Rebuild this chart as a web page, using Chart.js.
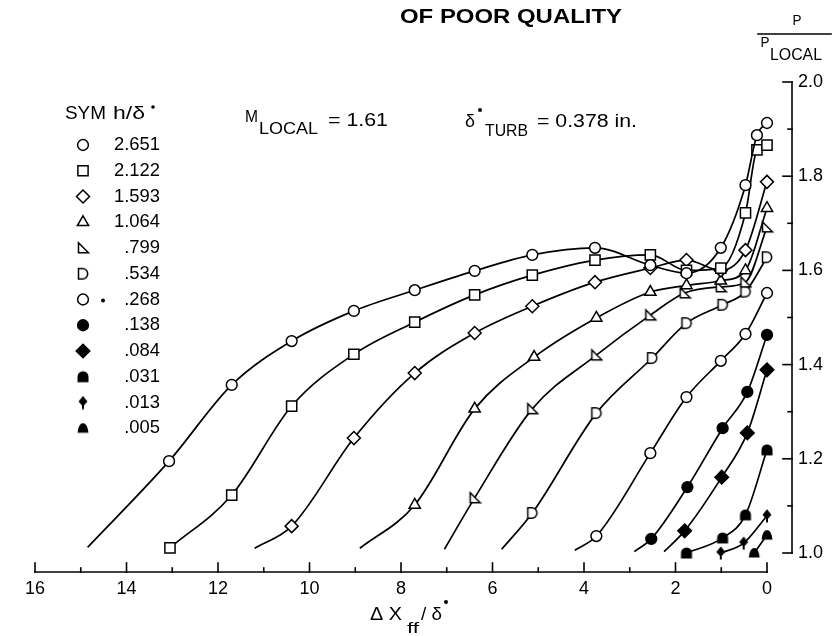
<!DOCTYPE html>
<html><head><meta charset="utf-8">
<script src="https://cdn.jsdelivr.net/npm/chart.js@4.4.0/dist/chart.umd.min.js"></script>
<style>html,body{margin:0;padding:0;background:#fff}#wrap{width:835px;height:636px;position:relative}</style>
</head><body><div id="wrap"><canvas id="c" width="835" height="636"></canvas></div>
<script>
// ---- tick labels ----
const xTickValues = [16, 14, 12, 10, 8, 6, 4, 2, 0];
const yTickValues = [1.0, 1.2, 1.4, 1.6, 1.8, 2.0];
// ---- legend (h/delta*) ----
const symLabels = ['2.651', '2.122', '1.593', '1.064', '.799', '.534', '.268', '.138', '.084', '.031', '.013', '.005'];

// ---- series: x = ΔX_ff/δ*, y = P/P_LOCAL ; *Start = unmarked start of the faired curve ----
const s1Start = [14.85, 1.012];
const s1X = [13.07, 11.70, 10.39, 9.03, 7.70, 6.39, 5.13, 3.76, 2.55, 1.76, 1.01, 0.47, 0.22, 0.0];
const s1Y = [1.195, 1.357, 1.450, 1.514, 1.558, 1.599, 1.633, 1.648, 1.611, 1.594, 1.648, 1.781, 1.887, 1.913];

const s2Start = null;
const s2X = [13.05, 11.70, 10.39, 9.03, 7.70, 6.39, 5.13, 3.76, 2.55, 1.76, 1.01, 0.47, 0.22, 0.0];
const s2Y = [1.011, 1.123, 1.312, 1.422, 1.490, 1.548, 1.590, 1.622, 1.633, 1.600, 1.605, 1.722, 1.856, 1.866];

const s3Start = [11.2, 1.010];
const s3X = [10.39, 9.03, 7.70, 6.39, 5.13, 3.76, 2.55, 1.76, 1.01, 0.47, 0.0];
const s3Y = [1.057, 1.244, 1.382, 1.467, 1.524, 1.575, 1.605, 1.622, 1.600, 1.643, 1.788];

const s4Start = [8.9, 1.010];
const s4X = [7.70, 6.39, 5.09, 3.73, 2.55, 1.76, 1.01, 0.47, 0.0];
const s4Y = [1.102, 1.306, 1.416, 1.499, 1.554, 1.568, 1.578, 1.600, 1.732];

const s5Start = [7.05, 1.008];
const s5X = [6.39, 5.13, 3.73, 2.55, 1.80, 1.01, 0.47, 0.0];
const s5Y = [1.117, 1.306, 1.420, 1.505, 1.552, 1.565, 1.575, 1.692];

const s6Start = [5.8, 1.008];
const s6X = [5.13, 3.73, 2.51, 1.76, 0.97, 0.47, 0.0];
const s6Y = [1.085, 1.297, 1.414, 1.488, 1.527, 1.555, 1.628];

const s7Start = [4.2, 1.006];
const s7X = [3.73, 2.55, 1.76, 1.01, 0.47, 0.0];
const s7Y = [1.036, 1.212, 1.331, 1.408, 1.465, 1.552];

const s8Start = [2.9, 1.003];
const s8X = [2.53, 1.74, 0.97, 0.43, 0.0];
const s8Y = [1.030, 1.140, 1.265, 1.342, 1.463];

const s9Start = [2.25, 1.003];
const s9X = [1.80, 0.99, 0.43, 0.0];
const s9Y = [1.047, 1.161, 1.255, 1.389];

const s10Start = null;
const s10X = [1.76, 0.97, 0.47, 0.0];
const s10Y = [1.000, 1.032, 1.081, 1.219];

const s11Start = null;
const s11X = [1.01, 0.51, 0.0];
const s11Y = [1.000, 1.021, 1.079];

const s12Start = null;
const s12X = [0.28, 0.0];
const s12Y = [1.000, 1.038];

// ---- custom marker glyphs ----
function glyph(size, draw) {
  const c = document.createElement('canvas');
  c.width = size; c.height = size;
  const g = c.getContext('2d');
  g.lineWidth = 1.5; g.strokeStyle = '#000'; g.fillStyle = '#fff';
  draw(g); return c;
}
const dOpen = glyph(14, g => { g.beginPath(); g.moveTo(2.5, 1.8); g.lineTo(6.5, 1.8); g.arc(6.5, 7, 5.2, -Math.PI/2, Math.PI/2); g.lineTo(2.5, 12.2); g.closePath(); g.fill(); g.stroke(); });
const rtOpen = glyph(14, g => { g.beginPath(); g.moveTo(2.5, 1.8); g.lineTo(2.5, 11.8); g.lineTo(12.5, 11.8); g.closePath(); g.fill(); g.stroke(); });
const domeFill = glyph(14, g => { g.fillStyle = '#000'; g.beginPath(); g.moveTo(1.5, 12.5); g.lineTo(1.5, 7); g.arc(7, 7, 5.5, Math.PI, 0); g.lineTo(12.5, 12.5); g.closePath(); g.fill(); });
const spadeFill = glyph(14, g => { g.fillStyle = '#000'; g.beginPath(); g.moveTo(7, 0.5); g.lineTo(11.5, 6); g.lineTo(7, 11); g.lineTo(2.5, 6); g.closePath(); g.fill(); g.fillRect(6, 9, 2, 4.5); });
const dome2Fill = glyph(14, g => { g.fillStyle = '#000'; g.beginPath(); g.moveTo(1.5, 11.5); g.quadraticCurveTo(2.5, 2, 7, 2); g.quadraticCurveTo(11.5, 2, 12.5, 11.5); g.closePath(); g.fill(); });

const seriesDefs = [
  { label: symLabels[0],  start: s1Start,  xs: s1X,  ys: s1Y,  style: 'circle',   r: 5.4, filled: false },
  { label: symLabels[1],  start: s2Start,  xs: s2X,  ys: s2Y,  style: 'rect',     r: 7.2, filled: false },
  { label: symLabels[2],  start: s3Start,  xs: s3X,  ys: s3Y,  style: 'rectRot',  r: 6.5, filled: false },
  { label: symLabels[3],  start: s4Start,  xs: s4X,  ys: s4Y,  style: 'triangle', r: 6.5, filled: false },
  { label: symLabels[4],  start: s5Start,  xs: s5X,  ys: s5Y,  style: rtOpen,     r: 6,   filled: false },
  { label: symLabels[5],  start: s6Start,  xs: s6X,  ys: s6Y,  style: dOpen,      r: 6,   filled: false },
  { label: symLabels[6],  start: s7Start,  xs: s7X,  ys: s7Y,  style: 'circle',   r: 5.4, filled: false },
  { label: symLabels[7],  start: s8Start,  xs: s8X,  ys: s8Y,  style: 'circle',   r: 5.4, filled: true },
  { label: symLabels[8],  start: s9Start,  xs: s9X,  ys: s9Y,  style: 'rectRot',  r: 6.8, filled: true },
  { label: symLabels[9],  start: s10Start, xs: s10X, ys: s10Y, style: domeFill,   r: 6,   filled: true },
  { label: symLabels[10], start: s11Start, xs: s11X, ys: s11Y, style: spadeFill,  r: 6,   filled: true },
  { label: symLabels[11], start: s12Start, xs: s12X, ys: s12Y, style: dome2Fill,  r: 6,   filled: true }
];

const datasets = seriesDefs.map(s => {
  const pts = s.xs.map((v, i) => ({ x: v, y: s.ys[i] }));
  const hasStart = !!s.start;
  if (hasStart) pts.unshift({ x: s.start[0], y: s.start[1] });
  return {
    label: s.label,
    data: pts,
    showLine: true,
    borderColor: '#000',
    borderWidth: 1.7,
    cubicInterpolationMode: 'monotone',
    pointStyle: s.style,
    pointRadius: ctx => (hasStart && ctx.dataIndex === 0) ? 0 : s.r,
    pointHoverRadius: ctx => (hasStart && ctx.dataIndex === 0) ? 0 : s.r,
    pointBackgroundColor: s.filled ? '#000' : '#fff',
    pointBorderColor: '#000',
    pointBorderWidth: 1.5,
    clip: false
  };
});

const FONT = "'Liberation Sans', Arial, sans-serif";

function fitText(ctx, str, x, y, size, width, align, weight) {
  ctx.save();
  ctx.font = (weight || 'normal') + ' ' + size + 'px ' + FONT;
  ctx.textBaseline = 'middle';
  ctx.textAlign = 'left';
  const w = ctx.measureText(str).width;
  const sx = width ? width / w : 1;
  const drawW = w * sx;
  let x0 = x;
  if (align === 'center') x0 = x - drawW / 2;
  else if (align === 'right') x0 = x - drawW;
  ctx.translate(x0, y);
  ctx.scale(sx, 1);
  ctx.fillText(str, 0, 0);
  ctx.restore();
}

const decor = {
  id: 'decor',
  afterDraw(chart) {
    const ctx = chart.ctx, xs = chart.scales.x, ys = chart.scales.y, a = chart.chartArea;
    ctx.save();
    ctx.strokeStyle = '#000'; ctx.fillStyle = '#000'; ctx.lineWidth = 1.6; ctx.lineCap = 'square';
    // x axis (offset below the data area)
    const axY = a.bottom + 19;
    ctx.beginPath(); ctx.moveTo(xs.getPixelForValue(16), axY); ctx.lineTo(xs.getPixelForValue(0), axY); ctx.stroke();
    for (let v = 0; v <= 16; v++) {
      const px = xs.getPixelForValue(v);
      const L = (v % 2 === 0) ? 9 : 4;
      ctx.beginPath(); ctx.moveTo(px, axY); ctx.lineTo(px, axY - L); ctx.stroke();
    }
    // y axis (offset right of the data area)
    const axX = a.right + 25;
    ctx.beginPath(); ctx.moveTo(axX, ys.getPixelForValue(2)); ctx.lineTo(axX, ys.getPixelForValue(1)); ctx.stroke();
    for (let k = 0; k <= 10; k++) {
      const py = ys.getPixelForValue(1 + k / 10);
      const L = (k % 2 === 0) ? 9 : 4;
      ctx.beginPath(); ctx.moveTo(axX, py); ctx.lineTo(axX - L, py); ctx.stroke();
    }
    // title fragment
    fitText(ctx, 'OF POOR QUALITY', 511, 17, 20, 222, 'center', 'bold');
    // y axis title P / P_LOCAL
    fitText(ctx, 'P', 797, 21, 15, 9, 'center');
    ctx.beginPath(); ctx.moveTo(758, 34); ctx.lineTo(831, 34); ctx.stroke();
    fitText(ctx, 'P', 765, 43, 15, 9, 'center');
    fitText(ctx, 'LOCAL', 770, 56, 16, 52, 'left');
    // x axis title ΔX_ff/δ*
    fitText(ctx, 'Δ X', 370, 615, 18, 32, 'left');
    fitText(ctx, 'ff', 407, 629, 15, 12, 'left');
    fitText(ctx, '/ δ', 421, 615, 18, 21, 'left');
    ctx.beginPath(); ctx.arc(446, 602, 2, 0, Math.PI * 2); ctx.fill();
    // conditions
    fitText(ctx, 'M', 245, 117, 17, 13, 'left');
    fitText(ctx, 'LOCAL', 259, 130, 16, 59, 'left');
    fitText(ctx, '= 1.61', 328, 121, 18, 60, 'left');
    fitText(ctx, 'δ', 465, 122, 18, 10, 'left');
    ctx.beginPath(); ctx.arc(480, 110, 2, 0, Math.PI * 2); ctx.fill();
    fitText(ctx, 'TURB', 485, 132, 16, 43, 'left');
    fitText(ctx, '= 0.378 in.', 537, 122, 18, 100, 'left');
    // legend
    fitText(ctx, 'SYM', 65, 114, 18, 41, 'left');
    fitText(ctx, 'h/δ', 113, 114, 19, 32, 'left');
    ctx.beginPath(); ctx.arc(153, 107, 1.8, 0, Math.PI * 2); ctx.fill();
    const rowY0 = 145, rowStep = 25.75;
    seriesDefs.forEach((s, i) => {
      const y = rowY0 + i * rowStep;
      ctx.save();
      ctx.fillStyle = s.filled ? '#000' : '#fff';
      ctx.strokeStyle = '#000';
      ctx.lineWidth = 1.5;
      Chart.helpers.drawPoint(ctx, { pointStyle: s.style, radius: s.r, borderWidth: 1.5, rotation: 0 }, 83, y);
      ctx.restore();
      fitText(ctx, s.label, 160, y, 19, s.label.length * 10.2 - (s.label.indexOf('.') >= 0 ? 5 : 0), 'right');
    });
    ctx.beginPath(); ctx.arc(103, rowY0 + 6 * rowStep + 1, 2, 0, Math.PI * 2); ctx.fill();
    ctx.restore();
  }
};

new Chart(document.getElementById('c'), {
  type: 'scatter',
  data: { datasets },
  options: {
    responsive: false,
    animation: false,
    devicePixelRatio: 1,
    events: [],
    layout: { padding: { left: 22, top: 82, right: 0, bottom: 0 } },
    plugins: { legend: { display: false }, tooltip: { enabled: false } },
    scales: {
      x: {
        type: 'linear', min: 0, max: 16, reverse: true,
        grid: { display: false, drawTicks: false }, border: { display: false },
        afterFit: s => { s.height = 83; },
        afterBuildTicks: s => { s.ticks = xTickValues.map(v => ({ value: v })); },
        ticks: { color: '#000', padding: 25, font: { family: FONT, size: 18 }, callback: v => String(v), autoSkip: false, maxRotation: 0 }
      },
      y: {
        type: 'linear', position: 'right', min: 1, max: 2,
        grid: { display: false, drawTicks: false }, border: { display: false },
        afterFit: s => { s.width = 68; },
        afterBuildTicks: s => { s.ticks = yTickValues.map(v => ({ value: v })); },
        ticks: { color: '#000', padding: 31, font: { family: FONT, size: 18 }, callback: v => Number(v).toFixed(1) }
      }
    }
  },
  plugins: [decor]
});
</script>
</body></html>
